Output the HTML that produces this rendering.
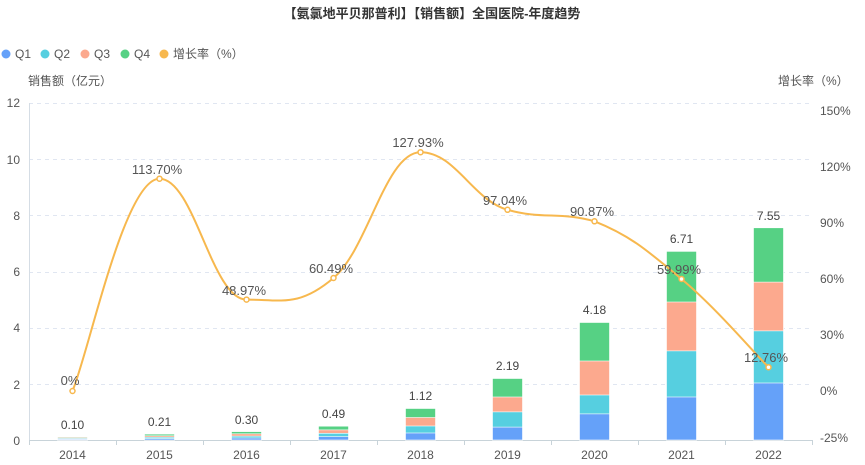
<!DOCTYPE html>
<html><head><meta charset="utf-8"><style>
body{margin:0;background:#fff;}
svg{display:block;font-family:"Liberation Sans","Noto Sans CJK SC",sans-serif;}
</style></head><body>
<svg width="865" height="465" xmlns="http://www.w3.org/2000/svg">
<text x="432" y="18" text-anchor="middle" font-size="13" font-weight="bold" fill="#333">【氨氯地平贝那普利】【销售额】全国医院-年度趋势</text>
<g font-size="12" fill="#555">
<circle cx="6" cy="54" r="4.5" fill="#65a1f9"/><text x="15" y="58">Q1</text>
<circle cx="45" cy="54" r="4.5" fill="#56cfe0"/><text x="54" y="58">Q2</text>
<circle cx="85" cy="54" r="4.5" fill="#fca98e"/><text x="94" y="58">Q3</text>
<circle cx="125" cy="54" r="4.5" fill="#56d184"/><text x="134" y="58">Q4</text>
<circle cx="164" cy="54" r="4.5" fill="#f7b84e"/><text x="173" y="58">增长率（%）</text>
<text x="28" y="85">销售额（亿元）</text>
<text x="778" y="85">增长率（%）</text>
</g>
<g stroke="#e0e6f1" stroke-dasharray="4,4">
<line x1="29" x2="812" y1="103.5" y2="103.5"/><line x1="29" x2="812" y1="159.5" y2="159.5"/>
<line x1="29" x2="812" y1="215.5" y2="215.5"/><line x1="29" x2="812" y1="272.5" y2="272.5"/>
<line x1="29" x2="812" y1="328.5" y2="328.5"/><line x1="29" x2="812" y1="384.5" y2="384.5"/>
</g>
<line x1="29.5" x2="29.5" y1="103" y2="440" stroke="#d5dde5"/>
<line x1="29" x2="812" y1="440.5" y2="440.5" stroke="#c8d3d9"/>
<g stroke="#c8d3d9">
<line x1="29.5" x2="29.5" y1="440" y2="445"/><line x1="116.5" x2="116.5" y1="440" y2="445"/><line x1="203.5" x2="203.5" y1="440" y2="445"/><line x1="290.5" x2="290.5" y1="440" y2="445"/><line x1="377.5" x2="377.5" y1="440" y2="445"/><line x1="464.5" x2="464.5" y1="440" y2="445"/><line x1="551.5" x2="551.5" y1="440" y2="445"/><line x1="638.5" x2="638.5" y1="440" y2="445"/><line x1="725.5" x2="725.5" y1="440" y2="445"/><line x1="812.5" x2="812.5" y1="440" y2="445"/>
</g>
<g font-size="12" fill="#555" text-anchor="end">
<text x="20" y="107">12</text><text x="20" y="164">10</text><text x="20" y="220">8</text><text x="20" y="276">6</text><text x="20" y="332">4</text><text x="20" y="389">2</text><text x="20" y="445">0</text>
</g>
<g font-size="12" fill="#555" text-anchor="start">
<text x="820" y="115">150%</text><text x="820" y="171">120%</text><text x="820" y="227">90%</text><text x="820" y="283">60%</text><text x="820" y="339">30%</text><text x="820" y="395">0%</text><text x="820" y="442">-25%</text>
</g>
<g font-size="12" fill="#555" text-anchor="middle">
<text x="72.5" y="459">2014</text><text x="159.5" y="459">2015</text><text x="246.5" y="459">2016</text><text x="333.5" y="459">2017</text><text x="420.5" y="459">2018</text><text x="507.5" y="459">2019</text><text x="594.5" y="459">2020</text><text x="681.5" y="459">2021</text><text x="768.5" y="459">2022</text>
</g>
<g stroke="#fff" stroke-width="0.6">
<rect x="57.5" y="436.8" width="30" height="3.2" fill="#56d184"/><rect x="57.5" y="437.5" width="30" height="2.5" fill="#fca98e"/><rect x="57.5" y="438.4" width="30" height="1.6" fill="#56cfe0"/><rect x="57.5" y="439.2" width="30" height="0.8" fill="#65a1f9"/>
<rect x="144.5" y="434.1" width="30" height="5.9" fill="#56d184"/><rect x="144.5" y="435.8" width="30" height="4.2" fill="#fca98e"/><rect x="144.5" y="437.2" width="30" height="2.8" fill="#56cfe0"/><rect x="144.5" y="438.6" width="30" height="1.4" fill="#65a1f9"/>
<rect x="231.5" y="431.6" width="30" height="8.4" fill="#56d184"/><rect x="231.5" y="433.8" width="30" height="6.2" fill="#fca98e"/><rect x="231.5" y="436.1" width="30" height="3.9" fill="#56cfe0"/><rect x="231.5" y="438" width="30" height="2" fill="#65a1f9"/>
<rect x="318.5" y="426.2" width="30" height="13.8" fill="#56d184"/><rect x="318.5" y="429.9" width="30" height="10.1" fill="#fca98e"/><rect x="318.5" y="433.3" width="30" height="6.7" fill="#56cfe0"/><rect x="318.5" y="436.6" width="30" height="3.4" fill="#65a1f9"/>
<rect x="405.5" y="408.5" width="30" height="31.5" fill="#56d184"/><rect x="405.5" y="417.5" width="30" height="22.5" fill="#fca98e"/><rect x="405.5" y="426" width="30" height="14" fill="#56cfe0"/><rect x="405.5" y="433" width="30" height="7" fill="#65a1f9"/>
<rect x="492.5" y="378.5" width="30" height="61.5" fill="#56d184"/><rect x="492.5" y="397" width="30" height="43" fill="#fca98e"/><rect x="492.5" y="411.9" width="30" height="28.1" fill="#56cfe0"/><rect x="492.5" y="427.1" width="30" height="12.9" fill="#65a1f9"/>
<rect x="579.5" y="322.5" width="30" height="117.5" fill="#56d184"/><rect x="579.5" y="361" width="30" height="79" fill="#fca98e"/><rect x="579.5" y="395" width="30" height="45" fill="#56cfe0"/><rect x="579.5" y="413.9" width="30" height="26.1" fill="#65a1f9"/>
<rect x="666.5" y="251.4" width="30" height="188.6" fill="#56d184"/><rect x="666.5" y="302" width="30" height="138" fill="#fca98e"/><rect x="666.5" y="350.9" width="30" height="89.1" fill="#56cfe0"/><rect x="666.5" y="397" width="30" height="43" fill="#65a1f9"/>
<rect x="753.5" y="227.8" width="30" height="212.2" fill="#56d184"/><rect x="753.5" y="282.1" width="30" height="157.9" fill="#fca98e"/><rect x="753.5" y="330.9" width="30" height="109.1" fill="#56cfe0"/><rect x="753.5" y="383" width="30" height="57" fill="#65a1f9"/>
</g>
<g font-size="12" fill="#444" text-anchor="middle">
<text x="72.5" y="429">0.10</text><text x="159.5" y="426">0.21</text><text x="246.5" y="424">0.30</text><text x="333.5" y="418">0.49</text><text x="420.5" y="400">1.12</text><text x="507.5" y="370">2.19</text><text x="594.5" y="314">4.18</text><text x="681.5" y="243">6.71</text><text x="768.5" y="220">7.55</text>
</g>
<path d="M72.5,391 C89.9,348.5 124.7,178.7 159.5,178.7 C194.3,178.7 211.7,299.6 246.5,299.6 C281.3,299.6 298.7,307.5 333.5,278 C368.3,248.5 385.7,152.2 420.5,152.2 C455.3,152.2 472.7,200 507.5,209.8 C542.3,219.6 559.7,211.5 594.5,221.3 C629.3,235.1 646.7,249.8 681.5,279 C716.3,308.2 751.1,349.6 768.5,367.2" fill="none" stroke="#f7b84e" stroke-width="2"/>
<g fill="#fff" stroke="#f7b84e" stroke-width="1.5">
<circle cx="72.5" cy="391" r="2.5"/><circle cx="159.5" cy="178.7" r="2.5"/><circle cx="246.5" cy="299.6" r="2.5"/><circle cx="333.5" cy="278" r="2.5"/><circle cx="420.5" cy="152.2" r="2.5"/><circle cx="507.5" cy="209.8" r="2.5"/><circle cx="594.5" cy="221.3" r="2.5"/><circle cx="681.5" cy="279" r="2.5"/><circle cx="768.5" cy="367.2" r="2.5"/>
</g>
<g font-size="13" fill="#555" text-anchor="middle">
<text x="70" y="385">0%</text><text x="157" y="174">113.70%</text><text x="244" y="295">48.97%</text><text x="331" y="273">60.49%</text><text x="418" y="147">127.93%</text><text x="505" y="205">97.04%</text><text x="592" y="216">90.87%</text><text x="679" y="274">59.99%</text><text x="766" y="362">12.76%</text>
</g>
</svg>
</body></html>
